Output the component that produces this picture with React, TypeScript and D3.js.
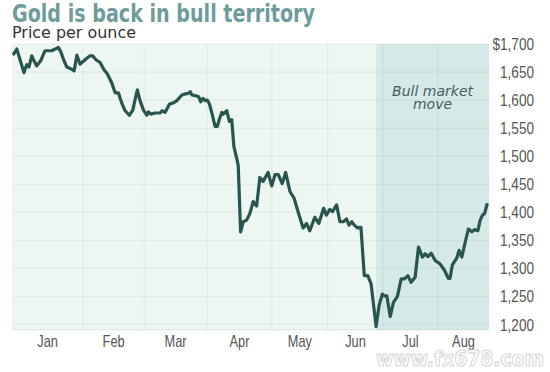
import * as d3 from "d3";

// gold price, 2013 (day of year, 0 = Jan 1)
const days = [
  0.4, 2.1, 5.2, 6.4, 7.4, 8.6, 9.6, 10.8, 12.5, 14.4, 17.3, 18.8, 20.2, 21.3, 22.4, 23.9, 26.1, 27.1, 28.3, 29.7,
  31.9, 34.2, 35.4, 36.9, 38.8, 40.6, 42.1, 44.2, 45.7, 47.2, 48.8, 50.3, 52.2, 53.8, 54.8, 55.9, 57.1,
  58.7, 60.3, 61.1, 62.3, 64.4, 66.9, 68, 69.3, 71.5, 73.4, 75.1, 77.6, 79.2, 80.8, 81.7, 82.5, 84.1, 85.8, 86.9, 87.9, 89,
  90.1, 91.1, 92.2, 93.7, 94.7, 95.6, 96.8, 97.5, 99.1, 100.3, 101.4, 102.4, 103.7, 104.4, 105.5, 106.7, 108.3, 109.8,
  111.3, 112.9, 114.4, 115.9, 118.2, 119.9,
  121.7, 123.5, 125.7, 127.6, 130, 132.3, 134.5, 137.3, 139.2, 141, 143.8, 146, 148.7, 150.2,
  152.1, 153.6, 155.8, 157.6, 159.4, 161.2, 162.5, 164, 165.4, 167.2, 169, 170.8, 172.7, 174.5, 177.2, 178.9, 180.6,
  181.7, 183.1, 185, 186.8, 189.1, 191.2, 193.1, 195, 196.8, 199.1, 201, 203.2, 204.8, 206.3, 208.2, 210.4,
  213.1, 215.5, 217.7, 218.6, 219.9, 222.3, 223.6, 225.1, 226.9, 228.7, 230.6, 232, 233.9, 235.1, 236.4, 237.5, 239.1,
];
const prices = [
  1680, 1691, 1649, 1663, 1659, 1679, 1670, 1661, 1670, 1688, 1688, 1691, 1694, 1686, 1673, 1659, 1655, 1652, 1680, 1664,
  1672, 1679, 1679, 1672, 1667, 1654, 1647, 1630, 1613, 1613, 1594, 1581, 1573, 1582, 1600, 1618, 1599,
  1582, 1573, 1579, 1575, 1577, 1577, 1581, 1578, 1593, 1595, 1599, 1609, 1611, 1612, 1615, 1609, 1608, 1606, 1597, 1603, 1599,
  1600, 1593, 1577, 1553, 1553, 1565, 1578, 1575, 1581, 1562, 1565, 1517, 1496, 1483, 1365, 1383, 1386, 1398,
  1419, 1411, 1462, 1455, 1471, 1447,
  1467, 1467, 1451, 1471, 1437, 1425, 1401, 1372, 1380, 1367, 1391, 1380, 1407, 1395,
  1405, 1401, 1413, 1383, 1383, 1388, 1377, 1383, 1377, 1372, 1373, 1287, 1287, 1272, 1196, 1235, 1254,
  1251, 1251, 1214, 1239, 1250, 1281, 1281, 1287, 1275, 1284, 1338, 1320, 1326, 1321, 1327, 1314,
  1308, 1297, 1282, 1282, 1306, 1318, 1332, 1320, 1346, 1370, 1365, 1369, 1367, 1385, 1395, 1397, 1416,
];

const months = ["Jan", "Feb", "Mar", "Apr", "May", "Jun", "Jul", "Aug"];
const monthStarts = [0, 31, 59, 90, 120, 151, 181, 212, 240];
// share of the axis width each month boundary sits at
const monthEdgeShare = [0, 0.149, 0.277, 0.409, 0.545, 0.662, 0.778, 0.893, 1];
const yTicks = [1200, 1250, 1300, 1350, 1400, 1450, 1500, 1550, 1600, 1650, 1700];

const W = 550;
const H = 372;
const M = { top: 44, right: 61, bottom: 42, left: 12 };
const iw = W - M.left - M.right;
const ih = H - M.top - M.bottom;

const sans = "'Liberation Sans', Arial, sans-serif";
const verdana = "'DejaVu Sans', Verdana, sans-serif";
const SQ = 0.8; // horizontal squeeze for the narrow axis font

export default function App() {
  const x = d3.scaleLinear().domain(monthStarts).range(monthEdgeShare.map((s) => s * iw));
  const y = d3.scaleLinear().domain([1190, 1700]).range([ih, 0]);

  const pts: [number, number][] = days.map((d, i) => [d, prices[i]]);
  const line = d3
    .line<[number, number]>()
    .x((d) => x(d[0]))
    .y((d) => y(d[1]));

  // bull market starts at the low
  const lowIdx = d3.minIndex(prices);
  const bullX = x(days[lowIdx]);
  const fmt = d3.format(",");

  return (
    <svg width={W} height={H} style={{ position: "absolute", left: 0, top: 0, background: "#fff" }}>
      <text x={12} y={22} fontFamily="'DejaVu Sans Condensed', 'DejaVu Sans', sans-serif" fontWeight="bold" fontSize={25} fill="#6e9c9a" textLength={303} lengthAdjust="spacingAndGlyphs">
        Gold is back in bull territory
      </text>
      <text x={12} y={38} fontFamily={verdana} fontSize={15} fill="#333" textLength={124} lengthAdjust="spacingAndGlyphs">
        Price per ounce
      </text>

      <g transform={`translate(${M.left},${M.top})`}>
        <rect width={iw} height={ih} fill="#eef6f1" />
        <rect x={bullX} width={iw - bullX} height={ih} fill="#d5e9e9" />
        {yTicks.map((t) => (
          <line key={t} x1={0} x2={iw} y1={y(t)} y2={y(t)} stroke="#000" strokeOpacity={0.06} />
        ))}
        {monthStarts.slice(1, -1).map((m) => (
          <line key={m} x1={x(m)} x2={x(m)} y1={0} y2={ih} stroke="#000" strokeOpacity={0.06} />
        ))}
        <line x1={0} x2={iw} y1={ih} y2={ih} stroke="#000" strokeOpacity={0.08} />

        <text textAnchor="middle" fontFamily={verdana} fontStyle="italic" fontSize={14} fill="#4a5c5c">
          <tspan x={(bullX + iw) / 2} y={52}>Bull market</tspan>
          <tspan x={(bullX + iw) / 2} y={65}>move</tspan>
        </text>

        <path d={line(pts) ?? ""} fill="none" stroke="#29554f" strokeWidth={3.2} strokeLinejoin="round" />

        {yTicks.map((t) => (
          <text key={t} transform={`translate(${iw + 45},${y(t)}) scale(${SQ},1)`} dy="0.36em" textAnchor="end" fontFamily={sans} fontSize={17} fill="#555">
            {t === 1700 ? "$" + fmt(t) : fmt(t)}
          </text>
        ))}
        {months.map((m, i) => (
          <text key={m} transform={`translate(${(x(monthStarts[i]) + x(monthStarts[i + 1])) / 2},${ih + 17}) scale(${SQ},1)`} textAnchor="middle" fontFamily={sans} fontSize={16} fill="#555">
            {m}
          </text>
        ))}
      </g>

      <text x={376} y={366} fontFamily="'DejaVu Sans', sans-serif" fontWeight="bold" fontSize={21} fill="#fff" stroke="#d8d8d8" strokeWidth={1.2} textLength={168} lengthAdjust="spacingAndGlyphs">
        www.fx678.com
      </text>
    </svg>
  );
}
